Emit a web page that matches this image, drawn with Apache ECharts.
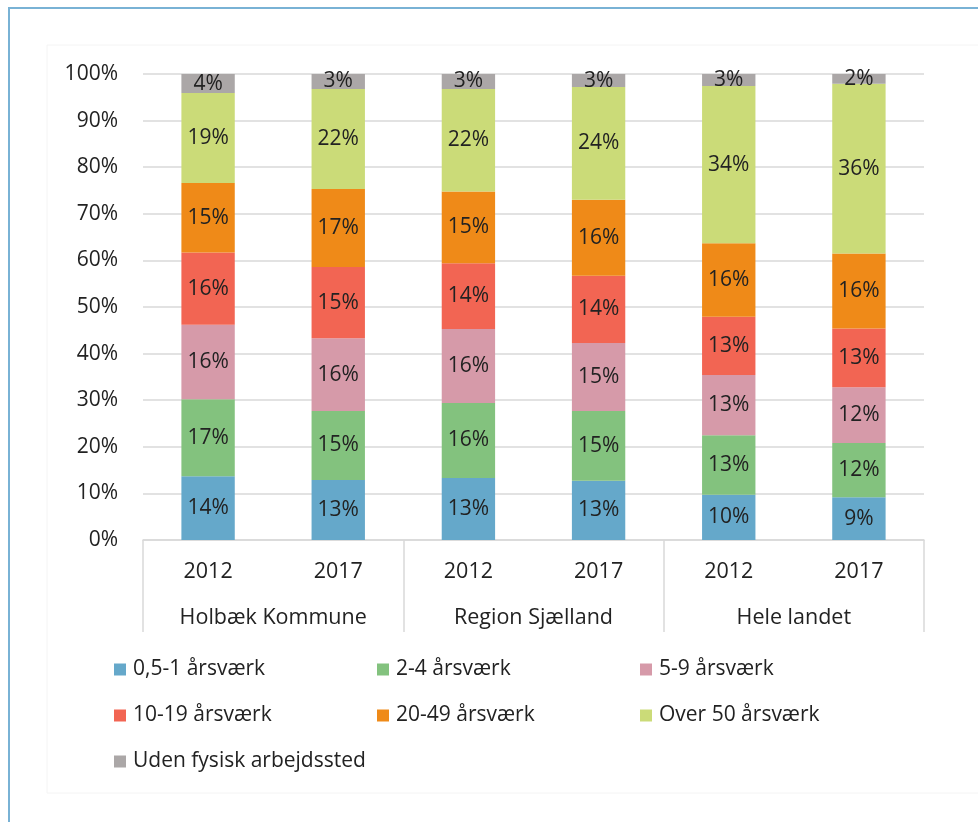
<!DOCTYPE html>
<html>
<head>
<meta charset="utf-8">
<script src="https://cdn.jsdelivr.net/npm/echarts@6/dist/echarts.min.js"></script>
<style>
html,body{margin:0;padding:0;background:#fff;overflow:hidden;}
#wrap{position:relative;width:978px;height:822px;overflow:hidden;background:#fff;}
#frame{position:absolute;left:8px;top:7px;width:1000px;height:900px;border:2px solid #79b2d5;box-sizing:border-box;}
#chart{position:absolute;left:0;top:0;width:978px;height:822px;}
</style>
</head>
<body>
<div id="wrap">
  <div id="frame"></div>
  <div id="chart"></div>
</div>
<script>
// Categories
const years = ['2012', '2017', '2012', '2017', '2012', '2017'];
const groups = ['Holbæk Kommune', 'Region Sjælland', 'Hele landet'];
const yTicks = [0, 10, 20, 30, 40, 50, 60, 70, 80, 90, 100];

// Series values (% of workplaces)
const s05_1   = [13.7, 12.9, 13.3, 12.7, 9.7, 9.2];
const s2_4    = [16.5, 14.8, 16.1, 15.0, 12.8, 11.6];
const s5_9    = [16.0, 15.6, 15.9, 14.6, 12.9, 12.0];
const s10_19  = [15.5, 15.3, 14.1, 14.4, 12.5, 12.6];
const s20_49  = [14.9, 16.7, 15.4, 16.3, 15.8, 16.1];
const sOver50 = [19.3, 21.5, 22.0, 24.2, 33.7, 36.4];
const sUden   = [4.1, 3.2, 3.2, 2.8, 2.6, 2.1];

const seriesNames = ['0,5-1 årsværk', '2-4 årsværk', '5-9 årsværk', '10-19 årsværk', '20-49 årsværk', 'Over 50 årsværk', 'Uden fysisk arbejdssted'];
const seriesData = [s05_1, s2_4, s5_9, s10_19, s20_49, sOver50, sUden];
const colors = ['#65a8ca', '#83c27e', '#d69aa9', '#f26553', '#ef8a18', '#cbdb78', '#aba7a7'];

const FONT = '"Open Sans", "Noto Sans", sans-serif';
const TXT = '#222222';

const chart = echarts.init(document.getElementById('chart'), null, {renderer: 'canvas'});

const series = seriesNames.map((name, i) => ({
  name: name,
  type: 'bar',
  stack: 'total',
  barWidth: '41%',
  itemStyle: {color: colors[i]},
  label: {
    show: true,
    position: 'inside',
    color: TXT,
    fontFamily: FONT,
    fontSize: 21,
    formatter: p => Math.round(p.value) + '%'
  },
  emphasis: {disabled: true},
  data: seriesData[i]
}));

const legendCommon = {
  orient: 'vertical',
  itemWidth: 12,
  itemHeight: 12,
  itemGap: 25,
  padding: 0,
  icon: 'rect',
  selectedMode: false,
  textStyle: {color: TXT, fontFamily: FONT, fontSize: 21, lineHeight: 21, padding: [0, 0, 0, 2]}
};

const option = {
  animation: false,
  backgroundColor: 'transparent',
  textStyle: {fontFamily: FONT},
  graphic: [{
    type: 'rect',
    shape: {x: 47, y: 45, width: 1000, height: 748},
    style: {fill: 'none', stroke: '#f4f4f4', lineWidth: 1},
    silent: true,
    z: -10
  }],
  grid: {left: 143, right: 54, top: 74, bottom: 282, containLabel: false},
  legend: [
    Object.assign({left: 114, top: 659, data: [seriesNames[0], seriesNames[3], seriesNames[6]]}, legendCommon),
    Object.assign({left: 377, top: 659, data: [seriesNames[1], seriesNames[4]]}, legendCommon),
    Object.assign({left: 640, top: 659, data: [seriesNames[2], seriesNames[5]]}, legendCommon)
  ],
  xAxis: [{
    type: 'category',
    data: years,
    position: 'bottom',
    axisLine: {show: true, lineStyle: {color: '#d9d9d9', width: 1.5}},
    axisTick: {show: false},
    axisLabel: {color: TXT, fontFamily: FONT, fontSize: 21.5, margin: 21, interval: 0}
  }, {
    type: 'category',
    data: groups,
    position: 'bottom',
    axisLine: {show: false},
    axisTick: {show: true, length: 92, lineStyle: {color: '#d9d9d9', width: 1.5}},
    axisLabel: {color: TXT, fontFamily: FONT, fontSize: 21.5, margin: 67, interval: 0}
  }],
  yAxis: {
    type: 'value',
    min: yTicks[0],
    max: yTicks[yTicks.length - 1],
    interval: 10,
    axisLine: {show: false},
    axisTick: {show: false},
    axisLabel: {color: TXT, fontFamily: FONT, fontSize: 21, margin: 25, formatter: '{value}%'},
    splitLine: {show: true, lineStyle: {color: '#d9d9d9', width: 1.5}}
  },
  series: series
};

chart.setOption(option);
</script>
</body>
</html>
